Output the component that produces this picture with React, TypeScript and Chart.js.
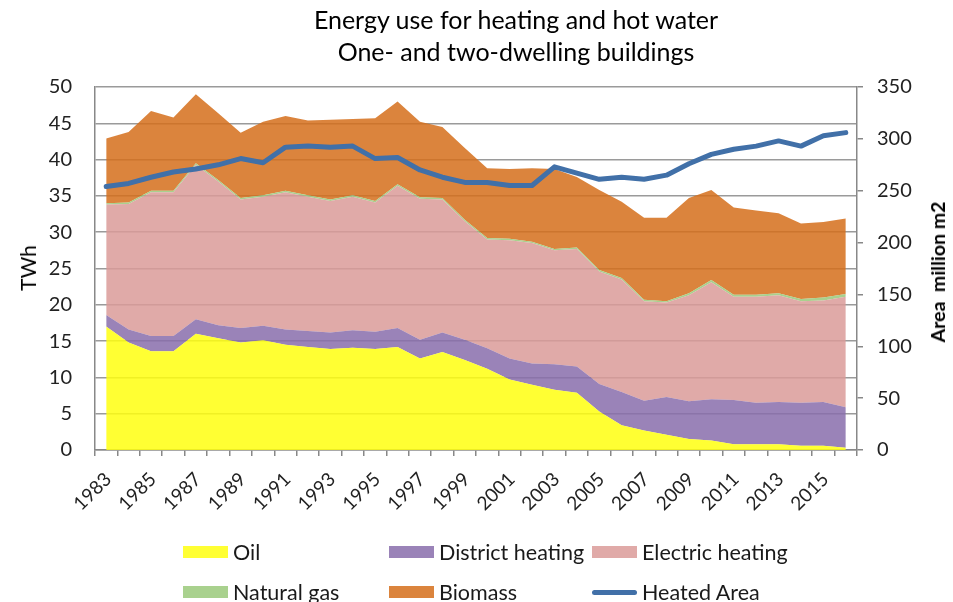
import React, { useEffect, useRef } from "react";
import { Chart, registerables } from "chart.js";

Chart.register(...registerables);

const years = ["1983","1984","1985","1986","1987","1988","1989","1990","1991","1992","1993","1994","1995","1996","1997","1998","1999","2000","2001","2002","2003","2004","2005","2006","2007","2008","2009","2010","2011","2012","2013","2014","2015","2016"];
const oil = [17.0,14.8,13.6,13.6,16.0,15.4,14.8,15.1,14.5,14.2,13.9,14.1,13.9,14.2,12.6,13.5,12.4,11.2,9.7,9.0,8.3,7.9,5.3,3.4,2.7,2.1,1.5,1.3,0.8,0.8,0.8,0.6,0.6,0.3];
const districtHeating = [1.6,1.8,2.1,2.1,2.0,1.8,2.0,2.0,2.1,2.2,2.3,2.4,2.4,2.6,2.6,2.7,2.8,2.8,2.9,2.9,3.5,3.6,3.8,4.6,4.1,5.2,5.2,5.7,6.1,5.7,5.8,5.9,6.0,5.6];
const electricHeating = [15.2,17.3,19.8,19.8,21.3,19.8,17.7,17.8,18.9,18.5,18.1,18.4,17.8,19.6,19.4,18.3,16.3,15.0,16.3,16.6,15.7,16.2,15.5,15.5,13.7,13.0,14.6,16.1,14.2,14.6,14.7,14.0,14.0,15.2];
const naturalGas = [0.2,0.2,0.2,0.2,0.2,0.2,0.2,0.2,0.2,0.2,0.2,0.2,0.2,0.2,0.2,0.2,0.2,0.2,0.2,0.2,0.2,0.2,0.2,0.2,0.2,0.2,0.3,0.3,0.3,0.3,0.3,0.3,0.4,0.4];
const biomass = [8.9,9.7,11.0,10.1,9.5,9.2,9.0,10.1,10.3,10.3,11.0,10.5,11.4,11.4,10.4,9.8,9.9,9.6,9.6,10.1,11.0,9.7,11.0,10.5,11.3,11.5,13.1,12.4,12.0,11.6,11.0,10.4,10.4,10.4];
const heatedArea = [254,257,263,268,271,275,281,277,292,293,292,293,281,282,270,263,258,258,255,255,273,267,261,263,261,265,276,285,290,293,298,293,303,306];

const leftTicks = { min: 0, max: 50, step: 5 };
const rightTicks = { min: 0, max: 350, step: 50 };

const FONT = "Lato, 'Open Sans', sans-serif";

const legendItems = [
  { label: "Oil", color: "#FFFF33", kind: "box", col: 0, row: 0 },
  { label: "District heating", color: "#9A83B8", kind: "box", col: 1, row: 0 },
  { label: "Electric heating", color: "#E0AAA8", kind: "box", col: 2, row: 0 },
  { label: "Natural gas", color: "#A9D18E", kind: "box", col: 0, row: 1 },
  { label: "Biomass", color: "#DB843D", kind: "box", col: 1, row: 1 },
  { label: "Heated Area", color: "#4170A8", kind: "line", col: 2, row: 1 },
];
const legendColX = [183, 389, 592];
const legendRowY = [552, 592];

export default function App() {
  const canvasRef = useRef<HTMLCanvasElement | null>(null);

  useEffect(() => {
    const canvas = canvasRef.current;
    if (!canvas) return;
    const area = (label: string, data: number[], color: string, fill: any) => ({
      label,
      data,
      type: "line" as const,
      yAxisID: "y",
      backgroundColor: color,
      borderColor: "rgba(0,0,0,0)",
      borderWidth: 0,
      pointRadius: 0,
      fill,
      tension: 0,
      order: 0,
    });
    const chart = new Chart(canvas, {
      type: "line",
      data: {
        labels: years,
        datasets: [
          area("Oil", oil, "rgba(255,255,15,0.85)", "origin"),
          area("District heating", districtHeating, "rgba(136,109,172,0.85)", "-1"),
          area("Electric heating", electricHeating, "rgba(219,155,153,0.85)", "-1"),
          area("Natural gas", naturalGas, "rgba(154,201,122,0.85)", "-1"),
          area("Biomass", biomass, "rgba(213,110,27,0.85)", "-1"),
          {
            label: "Heated Area",
            data: heatedArea,
            type: "line",
            yAxisID: "y1",
            borderColor: "#4170A8",
            backgroundColor: "#4170A8",
            borderWidth: 5,
            pointRadius: 0,
            fill: false,
            tension: 0,
            order: -1,
            borderJoinStyle: "round",
            borderCapStyle: "round",
          } as any,
        ],
      },
      options: {
        responsive: false,
        animation: false,
        layout: { padding: { top: 87, left: 0, right: 0, bottom: 0 } },
        plugins: {
          legend: { display: false },
          title: { display: false },
          tooltip: { enabled: false },
          filler: { propagate: false },
        },
        scales: {
          x: {
            offset: true,
            grid: {
              offset: true,
              drawOnChartArea: false,
              drawTicks: true,
              tickLength: 6,
              color: "#888888",
              lineWidth: 1.5,
            },
            border: { display: true, color: "#888888", width: 1.5 },
            ticks: {
              autoSkip: false,
              maxRotation: 45,
              minRotation: 45,
              padding: 12,
              labelOffset: 2,
              color: "#222222",
              font: { family: FONT, size: 19 },
              callback: (_v: any, i: number) => (i % 2 === 0 ? years[i] : ""),
            },
            afterFit: (s: any) => {
              s.height = 152;
            },
          },
          y: {
            position: "left",
            stacked: true,
            min: leftTicks.min,
            max: leftTicks.max,
            grid: {
              drawTicks: false,
              color: "#9A9A9A",
              lineWidth: 1.5,
            },
            border: { display: true, color: "#888888", width: 1.5 },
            ticks: {
              stepSize: leftTicks.step,
              padding: 23,
              color: "#222222",
              font: { family: FONT, size: 20 },
            },
            afterFit: (s: any) => {
              s.width = 95;
            },
          },
          y1: {
            position: "right",
            min: rightTicks.min,
            max: rightTicks.max,
            grid: {
              drawOnChartArea: false,
              drawTicks: true,
              tickLength: 6,
              color: "#888888",
              lineWidth: 1.5,
            },
            border: { display: true, color: "#888888", width: 1.5 },
            ticks: {
              stepSize: rightTicks.step,
              padding: 14,
              color: "#222222",
              font: { family: FONT, size: 20 },
            },
            afterFit: (s: any) => {
              s.width = 96;
            },
          },
        },
      },
    });
    return () => chart.destroy();
  }, []);

  const rotated = (text: string, cx: number, cy: number, bold: boolean, size: number) => (
    <div
      style={{
        position: "absolute",
        left: cx,
        top: cy,
        transform: "translate(-50%, -50%) rotate(-90deg)",
        whiteSpace: "pre",
        fontFamily: FONT,
        fontSize: size,
        fontWeight: bold ? 700 : 400,
        color: "#000",
        lineHeight: "24px",
      }}
    >
      {text}
    </div>
  );

  return (
    <div
      style={{
        position: "absolute",
        left: 0,
        top: 0,
        width: 953,
        height: 602,
        overflow: "hidden",
        background: "#ffffff",
      }}
    >
      <canvas ref={canvasRef} width={953} height={602} style={{ position: "absolute", left: 0, top: 0 }} />
      <div
        style={{
          position: "absolute",
          left: 516,
          top: 3,
          transform: "translateX(-50%)",
          textAlign: "center",
          fontFamily: FONT,
          fontSize: 25,
          lineHeight: "32px",
          color: "#000",
          whiteSpace: "nowrap",
        }}
      >
        <div>Energy use for heating and hot water</div>
        <div>One- and two-dwelling buildings</div>
      </div>
      {rotated("TWh", 28, 268, false, 21)}
      {rotated("Area  million m2", 938, 272, true, 19.5)}
      {legendItems.map((it) => {
        const x = legendColX[it.col];
        const y = legendRowY[it.row];
        return (
          <div key={it.label}>
            {it.kind === "box" ? (
              <div
                style={{
                  position: "absolute",
                  left: x,
                  top: y - 6,
                  width: 45,
                  height: 12,
                  background: it.color,
                }}
              />
            ) : (
              <div
                style={{
                  position: "absolute",
                  left: x,
                  top: y - 2.5,
                  width: 45,
                  height: 5,
                  borderRadius: 2.5,
                  background: it.color,
                }}
              />
            )}
            <div
              style={{
                position: "absolute",
                left: x + 50,
                top: y - 13,
                fontFamily: FONT,
                fontSize: 21.5,
                lineHeight: "26px",
                color: "#1a1a1a",
                whiteSpace: "nowrap",
              }}
            >
              {it.label}
            </div>
          </div>
        );
      })}
    </div>
  );
}
